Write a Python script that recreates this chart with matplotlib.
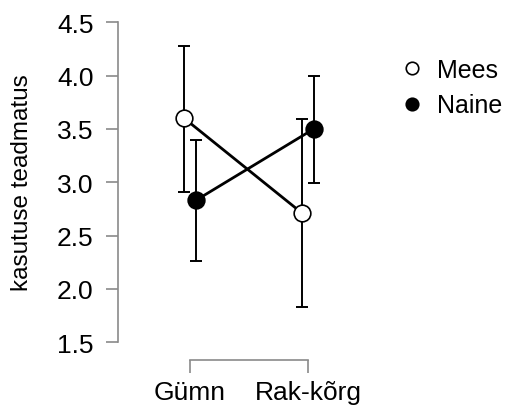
import matplotlib.pyplot as plt
import numpy as np

plt.rcParams['font.family'] = ['Liberation Sans', 'DejaVu Sans']

categories = ['Gümn', 'Rak-kõrg']
groups = ['Mees', 'Naine']
mees_mean = [3.60, 2.71]
mees_lower = [2.91, 1.83]
mees_upper = [4.28, 3.59]
naine_mean = [2.83, 3.50]
naine_lower = [2.26, 2.99]
naine_upper = [3.40, 4.00]
y_ticks = [1.5, 2.0, 2.5, 3.0, 3.5, 4.0, 4.5]

fig = plt.figure(figsize=(5.12, 4.06), dpi=100)
ax = fig.add_axes([0.2305, 0.110, 0.453, 0.846])

x = np.arange(len(categories))
dodge = 0.05
series = [
    (mees_mean, mees_lower, mees_upper, 'white', -dodge),
    (naine_mean, naine_lower, naine_upper, 'black', dodge),
]
for (mean, lo, hi, face, off), name in zip(series, groups):
    xs = x + off
    mean = np.array(mean)
    yerr = [mean - np.array(lo), np.array(hi) - mean]
    ax.errorbar(xs, mean, yerr=yerr, fmt='none', ecolor='black',
                elinewidth=1.4, capsize=4.5, capthick=1.4, zorder=2)
    ax.plot(xs, mean, color='black', lw=2, zorder=3)
    ax.plot(xs, mean, linestyle='none', marker='o', ms=12,
            markerfacecolor=face, markeredgecolor='black', mew=1.2,
            zorder=4, label=name)

ax.set_xlim(-0.61, 1.356)
ax.set_ylim(1.33, 4.55)
ax.set_xticks(x)
ax.set_xticklabels(categories)
ax.set_yticks(y_ticks)
ax.set_yticklabels([f'{v:.1f}' for v in y_ticks])
ax.set_ylabel('kasutuse teadmatus', fontsize=17.5)
ax.yaxis.set_label_coords(-0.366, 0.52)

for s in ['top', 'right']:
    ax.spines[s].set_visible(False)
axis_grey = '#8a8a8a'
ax.spines['left'].set_bounds(1.5, 4.5)
ax.spines['bottom'].set_bounds(0, 1)
for s in ['left', 'bottom']:
    ax.spines[s].set_color(axis_grey)
    ax.spines[s].set_linewidth(1.2)
ax.tick_params(axis='both', colors=axis_grey, labelcolor='black',
               length=9, width=1.2, labelsize=19)
ax.tick_params(axis='y', pad=8.5)
ax.tick_params(axis='x', pad=5)

handles, labels = ax.get_legend_handles_labels()
fig.legend(handles, labels, loc='upper left', bbox_to_anchor=(0.756, 0.885),
           frameon=False, fontsize=18, borderpad=0, handletextpad=0.5,
           labelspacing=0.45, handlelength=1.0, markerscale=0.75)

fig.savefig('out.png', dpi=100)
